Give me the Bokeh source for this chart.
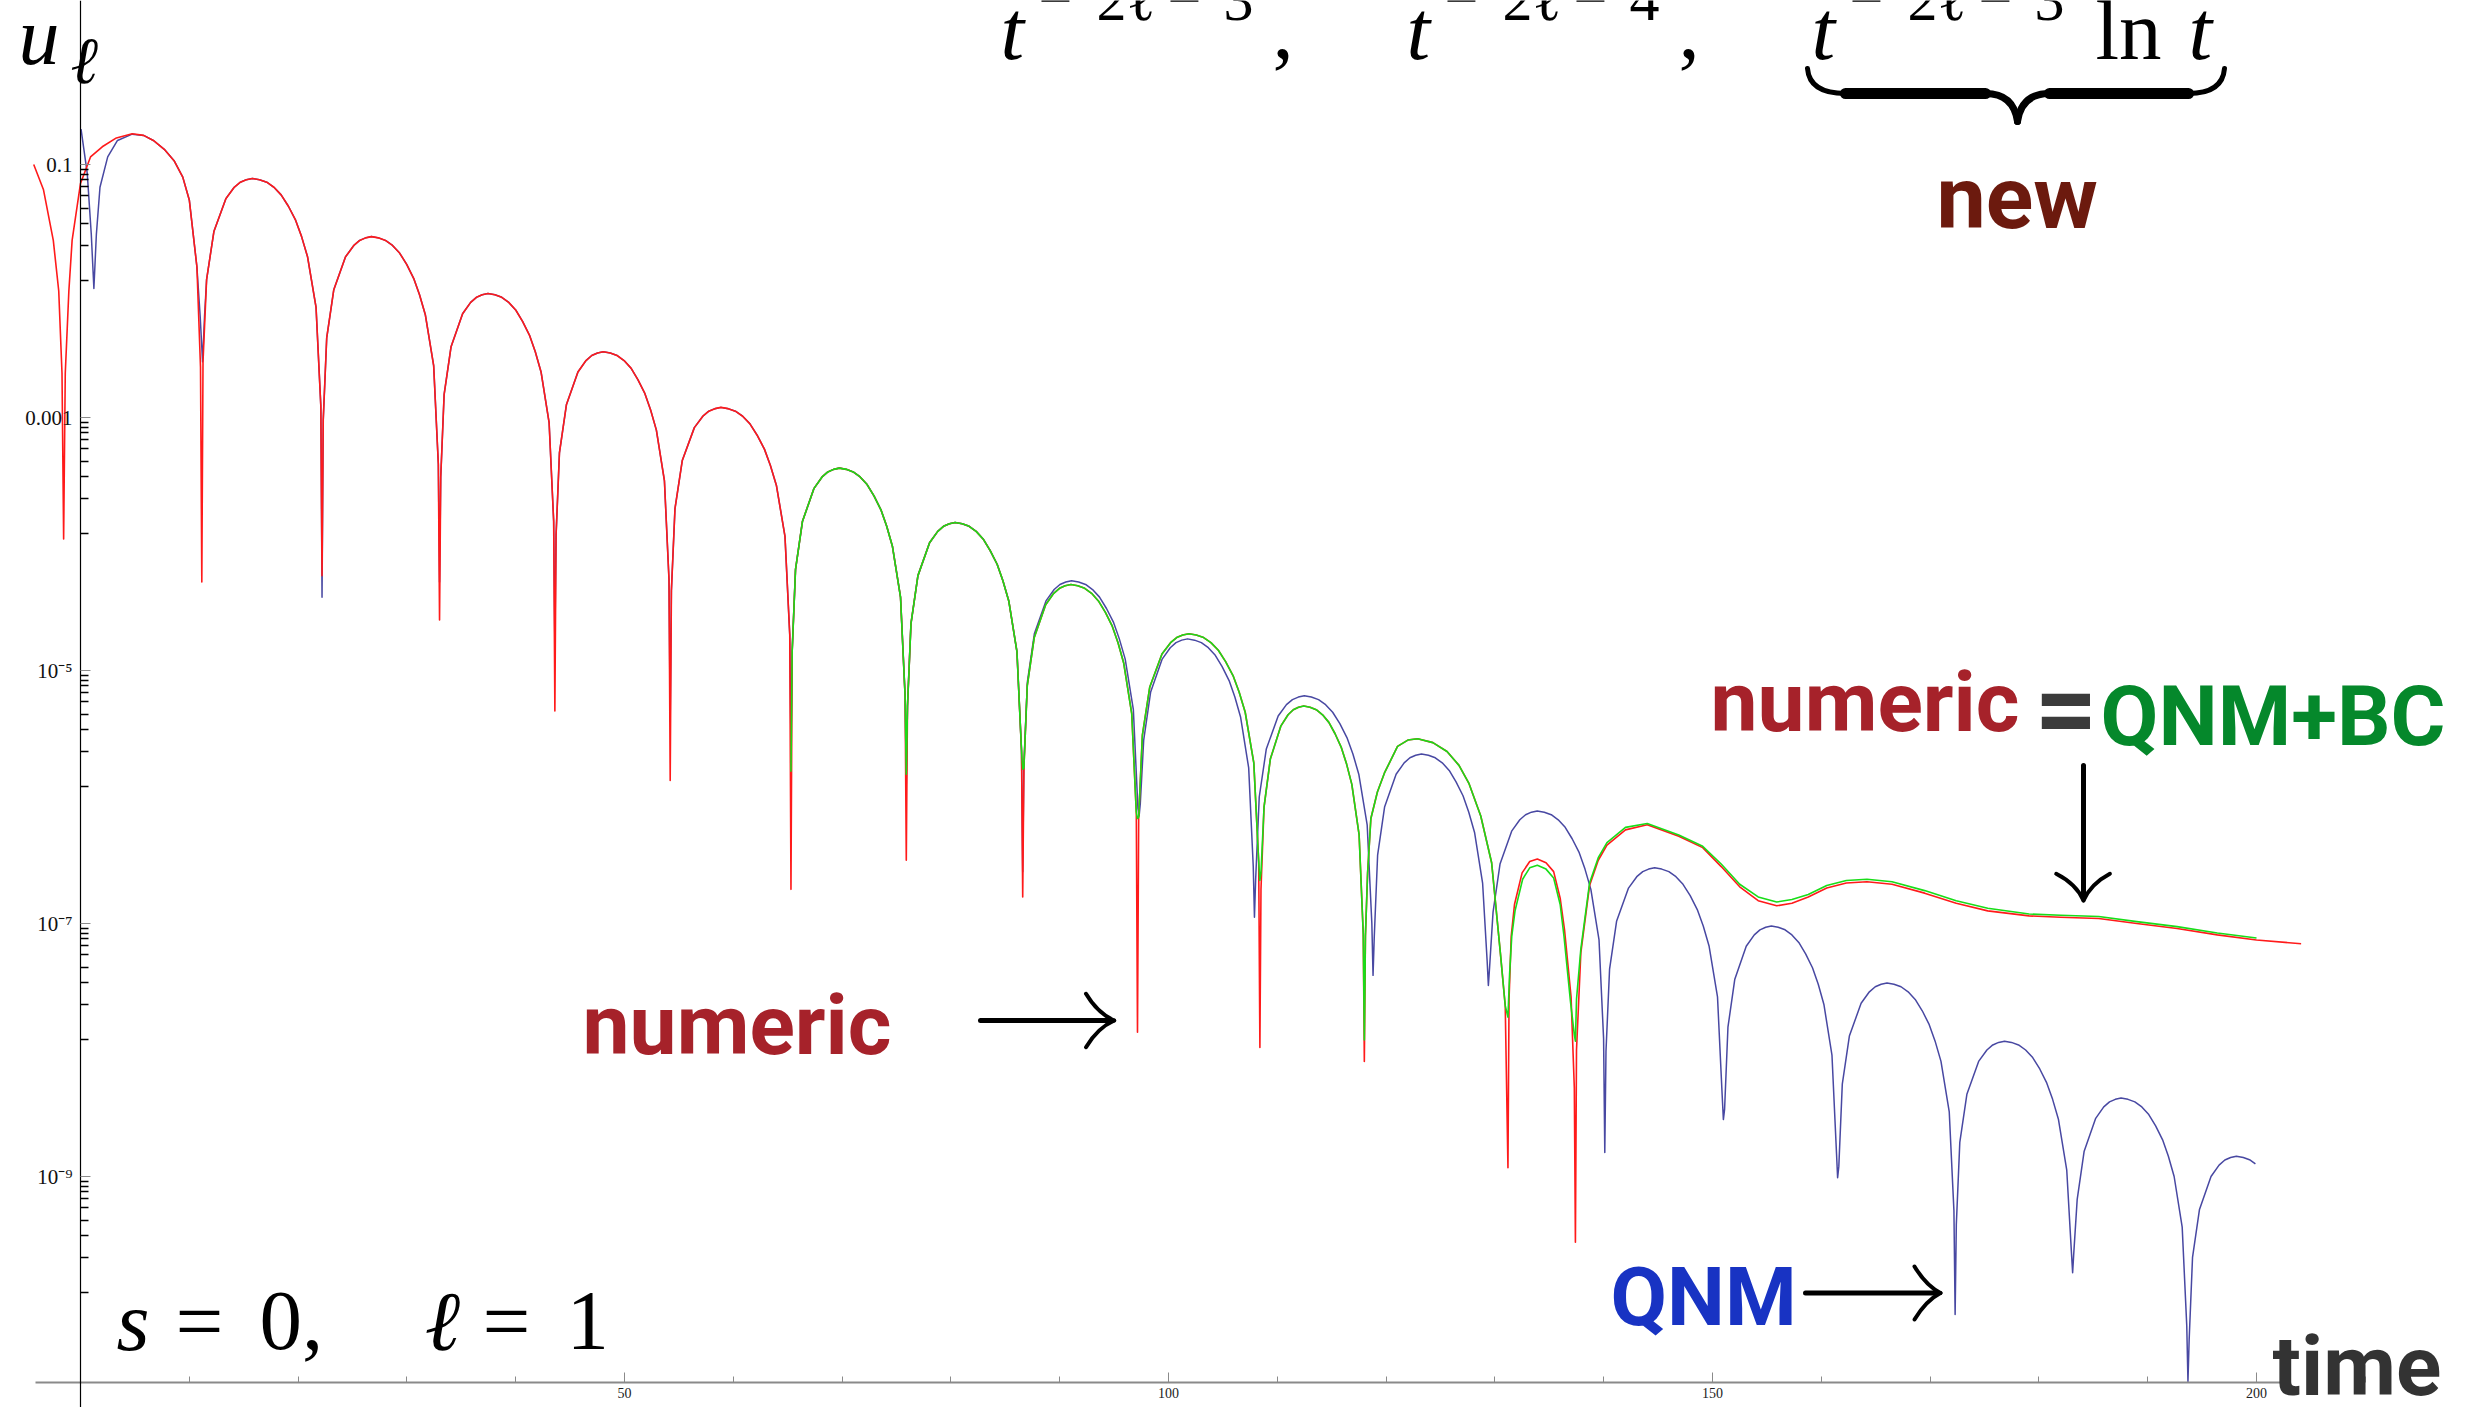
import numpy as np
from bokeh.plotting import figure
from bokeh.models import Range1d, FixedTicker, CustomJSTickFormatter, Label
from bokeh.core.properties import value
from bokeh.embed import file_html
from bokeh.resources import INLINE

# ---------------- data (t, log10 u) ----------------
numeric_t = [
    -4.3, -3.4, -2.5, -2.0, -1.7, -1.55,
    -1.4, -1.07, -0.77, 0.0, 0.92, 2.0, 3.3, 4.75, 5.8, 6.7, 7.7, 8.6, 9.4, 10.0, 10.7, 11.03, 11.15,
    11.26, 11.59, 12.26, 13.36, 14.69, 15.79, 17.12, 18.44, 19.77, 20.87, 21.65, 22.09, 22.2,
    22.31, 22.63, 23.28, 24.36, 25.66, 26.74, 28.03, 29.33, 30.62, 31.70, 32.46, 32.89, 33.0,
    33.11, 33.42, 34.06, 35.12, 36.39, 37.45, 38.72, 40.00, 41.27, 42.33, 43.07, 43.49, 43.6,
    43.71, 44.02, 44.66, 45.72, 46.99, 48.05, 49.32, 50.60, 51.87, 52.93, 53.67, 54.09, 54.2,
    54.31, 54.64, 55.31, 56.42, 57.75, 58.86, 60.19, 61.53, 62.86, 63.97, 64.75, 65.19, 65.3,
    65.41, 65.72, 66.36, 67.42, 68.69, 69.75, 71.02, 72.30, 73.57, 74.63, 75.37, 75.79, 75.9,
    76.01, 76.33, 76.97, 78.04, 79.32, 80.39, 81.68, 82.96, 84.25, 85.32, 86.07, 86.49, 86.6,
    86.71, 87.02, 87.66, 88.71, 89.98, 91.03, 92.30, 93.56, 94.83, 95.88, 96.62, 97.04, 97.15,
    97.26, 97.60, 98.28, 99.40, 100.75, 101.88, 103.23, 104.58, 105.93, 107.05, 107.84, 108.29, 108.4,
    108.50, 108.78, 109.36, 110.32, 111.47, 112.43, 113.58, 114.74, 115.89, 116.85, 117.52, 117.90, 118.0,
    118.1, 118.3, 118.6, 119.2, 119.85, 121.05, 122.0, 122.9, 124.3, 125.6, 126.7, 127.6, 128.7, 129.7, 130.5, 130.95, 131.2,
    131.3, 131.5, 131.8, 132.5, 133.2, 133.9, 134.7, 135.4, 136.0, 136.4, 137.0, 137.3, 137.4,
    137.5, 137.9, 138.7, 139.5, 140.3, 142.0, 144.0, 146.9, 149.1, 150.8, 152.5, 154.2, 155.9, 157.3, 158.8,
    160.5, 162.3, 164.2, 166.5, 169.5, 172.4, 175.3, 179.1, 182.0, 185.5, 189.0, 192.7, 196.4, 200.0, 204.1,
]
numeric_log10_u = [
    -1.00, -1.20, -1.60, -2.00, -2.65, -3.96,
    -2.65, -2.00, -1.60, -1.15, -0.94, -0.86, -0.79, -0.757, -0.77, -0.81, -0.88, -0.97, -1.10, -1.28, -1.81, -2.60, -4.30,
    -2.56, -1.91, -1.53, -1.27, -1.14, -1.11, -1.14, -1.24, -1.44, -1.73, -2.13, -2.91, -4.25,
    -3.02, -2.37, -1.99, -1.73, -1.60, -1.57, -1.60, -1.70, -1.90, -2.19, -2.59, -3.37, -4.60,
    -3.47, -2.82, -2.44, -2.18, -2.05, -2.02, -2.05, -2.15, -2.35, -2.64, -3.04, -3.82, -5.32,
    -3.93, -3.28, -2.90, -2.64, -2.51, -2.48, -2.51, -2.61, -2.81, -3.10, -3.50, -4.28, -5.87,
    -4.37, -3.72, -3.34, -3.08, -2.95, -2.92, -2.95, -3.05, -3.25, -3.54, -3.94, -4.72, -6.73,
    -4.85, -4.20, -3.82, -3.56, -3.43, -3.40, -3.43, -3.53, -3.73, -4.02, -4.42, -5.20, -6.50,
    -5.28, -4.63, -4.25, -3.99, -3.86, -3.83, -3.86, -3.96, -4.16, -4.45, -4.85, -5.63, -6.79,
    -5.77, -5.12, -4.74, -4.48, -4.35, -4.32, -4.35, -4.45, -4.65, -4.94, -5.34, -6.12, -7.86,
    -6.16, -5.51, -5.13, -4.87, -4.74, -4.71, -4.74, -4.84, -5.04, -5.33, -5.73, -6.51, -7.98,
    -6.73, -6.08, -5.70, -5.44, -5.31, -5.28, -5.31, -5.41, -5.61, -5.90, -6.30, -7.08, -8.09,
    -7.10, -6.60, -6.17, -5.96, -5.81, -5.60, -5.55, -5.54, -5.57, -5.64, -5.75, -5.89, -6.15, -6.52, -7.23, -7.65, -8.93,
    -7.60, -7.10, -6.85, -6.60, -6.51, -6.49, -6.52, -6.59, -6.80, -7.05, -7.58, -8.30, -9.52,
    -8.00, -7.23, -6.70, -6.50, -6.38, -6.26, -6.22, -6.31, -6.40, -6.55, -6.71, -6.82, -6.86, -6.84, -6.79,
    -6.72, -6.68, -6.67, -6.69, -6.76, -6.84, -6.90, -6.94, -6.95, -6.96, -7.00, -7.04, -7.09, -7.13, -7.16,
]
# further points read along the tops of the arches (lobes 2-11)
numeric_t_more = [
    14.13, 15.24, 16.45, 17.78, 19.11, 20.32,
    25.12, 26.20, 27.38, 28.68, 29.98, 31.16,
    35.86, 36.92, 38.09, 39.36, 40.63, 41.80,
    46.46, 47.52, 48.69, 49.96, 51.23, 52.40,
    57.20, 58.31, 59.53, 60.86, 62.19, 63.41,
    68.16, 69.22, 70.39, 71.66, 72.93, 74.10,
    78.79, 79.86, 81.04, 82.32, 83.60, 84.78,
    89.45, 90.50, 91.66, 92.93, 94.20, 95.36,
    100.19, 101.31, 102.55, 103.90, 105.25, 106.49,
    110.99, 111.95, 113.01, 114.16, 115.31, 116.37,
]
numeric_log10_u_more = [
    -1.18, -1.12, -1.12, -1.18, -1.33, -1.57,
    -1.64, -1.58, -1.58, -1.64, -1.79, -2.03,
    -2.09, -2.03, -2.03, -2.09, -2.24, -2.48,
    -2.55, -2.49, -2.49, -2.55, -2.70, -2.94,
    -2.99, -2.93, -2.93, -2.99, -3.14, -3.38,
    -3.47, -3.41, -3.41, -3.47, -3.62, -3.86,
    -3.90, -3.84, -3.84, -3.90, -4.05, -4.29,
    -4.39, -4.33, -4.33, -4.39, -4.54, -4.78,
    -4.78, -4.72, -4.72, -4.78, -4.93, -5.17,
    -5.35, -5.29, -5.29, -5.35, -5.50, -5.74,
]

qnm_bc_t = [
    65.3,
    65.41, 65.72, 66.36, 67.42, 68.69, 69.75, 71.02, 72.30, 73.57, 74.63, 75.37, 75.79, 75.9,
    76.01, 76.33, 76.97, 78.04, 79.32, 80.39, 81.68, 82.96, 84.25, 85.32, 86.07, 86.49, 86.6,
    86.71, 87.02, 87.66, 88.71, 89.98, 91.03, 92.30, 93.56, 94.83, 95.88, 96.62, 97.04, 97.15,
    97.26, 97.60, 98.28, 99.40, 100.75, 101.88, 103.23, 104.58, 105.93, 107.05, 107.84, 108.29, 108.4,
    108.50, 108.78, 109.36, 110.32, 111.47, 112.43, 113.58, 114.74, 115.89, 116.85, 117.52, 117.90, 118.0,
    118.1, 118.3, 118.6, 119.2, 119.85, 121.05, 122.0, 122.9, 124.3, 125.6, 126.7, 127.6, 128.7, 129.7, 130.5, 130.95, 131.2,
    131.35, 131.55, 131.85, 132.55, 133.2, 133.9, 134.7, 135.4, 136.0, 136.35, 136.95, 137.3, 137.4,
    137.5, 137.9, 138.7, 139.5, 140.3, 142.0, 144.0, 146.9, 149.1, 150.8, 152.5, 154.2, 155.9, 157.3, 158.8,
    160.5, 162.3, 164.2, 166.5, 169.5, 172.4, 175.3, 179.1, 182.0, 185.5, 189.0, 192.7, 196.4, 200.0,
]
qnm_bc_log10_u = [
    -5.80,
    -4.85, -4.20, -3.82, -3.56, -3.43, -3.40, -3.43, -3.53, -3.73, -4.02, -4.42, -5.20, -5.82,
    -5.28, -4.63, -4.25, -3.99, -3.86, -3.83, -3.86, -3.96, -4.16, -4.45, -4.85, -5.63, -5.78,
    -5.77, -5.12, -4.74, -4.48, -4.35, -4.32, -4.35, -4.45, -4.65, -4.94, -5.34, -6.12, -6.17,
    -6.16, -5.51, -5.13, -4.87, -4.74, -4.71, -4.74, -4.84, -5.04, -5.33, -5.73, -6.51, -6.66,
    -6.60, -6.08, -5.70, -5.44, -5.31, -5.28, -5.31, -5.41, -5.61, -5.90, -6.30, -7.08, -7.92,
    -7.10, -6.60, -6.17, -5.96, -5.81, -5.60, -5.55, -5.54, -5.57, -5.64, -5.75, -5.89, -6.15, -6.52, -7.23, -7.65, -7.74,
    -7.40, -7.10, -6.90, -6.65, -6.56, -6.54, -6.57, -6.64, -6.85, -7.10, -7.62, -7.88, -7.93,
    -7.60, -7.20, -6.68, -6.48, -6.36, -6.24, -6.21, -6.30, -6.39, -6.53, -6.69, -6.79, -6.83, -6.81, -6.77,
    -6.70, -6.66, -6.65, -6.67, -6.74, -6.82, -6.88, -6.925, -6.935, -6.945, -6.985, -7.025, -7.075, -7.115,
]
qnm_bc_t_more = [
    68.16, 69.22, 70.39, 71.66, 72.93, 74.10,
    78.79, 79.86, 81.04, 82.32, 83.60, 84.78,
    89.45, 90.50, 91.66, 92.93, 94.20, 95.36,
    100.19, 101.31, 102.55, 103.90, 105.25, 106.49,
    110.99, 111.95, 113.01, 114.16, 115.31, 116.37,
]
qnm_bc_log10_u_more = [
    -3.47, -3.41, -3.41, -3.47, -3.62, -3.86,
    -3.90, -3.84, -3.84, -3.90, -4.05, -4.29,
    -4.39, -4.33, -4.33, -4.39, -4.54, -4.78,
    -4.78, -4.72, -4.72, -4.78, -4.93, -5.17,
    -5.35, -5.29, -5.29, -5.35, -5.50, -5.74,
]

qnm_t = [
    0.05, 0.62, 0.99, 1.23, 1.46, 1.79, 2.5, 3.4, 4.75, 5.8, 6.7, 7.7, 8.6, 9.4, 10.0, 10.7, 11.0, 11.22,
    11.4, 11.59, 12.26, 13.36, 14.69, 15.79, 17.12, 18.44, 19.77, 20.87, 21.65, 22.09, 22.2,
    22.31, 22.63, 23.28, 24.36, 25.66, 26.74, 28.03, 29.33, 30.62, 31.70, 32.46, 32.89, 33.0,
    33.11, 33.42, 34.06, 35.12, 36.39, 37.45, 38.72, 40.00, 41.27, 42.33, 43.07, 43.49, 43.6,
    43.71, 44.02, 44.66, 45.72, 46.99, 48.05, 49.32, 50.60, 51.87, 52.93, 53.67, 54.09, 54.2,
    54.31, 54.64, 55.31, 56.42, 57.75, 58.86, 60.19, 61.53, 62.86, 63.97, 64.75, 65.19, 65.3,
    65.41, 65.72, 66.36, 67.42, 68.69, 69.75, 71.02, 72.30, 73.57, 74.63, 75.37, 75.79, 75.9,
    76.01, 76.33, 76.97, 78.04, 79.32, 80.39, 81.68, 82.96, 84.25, 85.32, 86.07, 86.49, 86.6,
    86.71, 87.03, 87.67, 88.74, 90.02, 91.09, 92.38, 93.66, 94.95, 96.02, 96.77, 97.19, 97.3,
    97.41, 97.72, 98.36, 99.42, 100.69, 101.75, 103.02, 104.30, 105.57, 106.63, 107.37, 107.79, 107.9,
    108.01, 108.34, 108.99, 110.08, 111.39, 112.48, 113.79, 115.09, 116.40, 117.49, 118.26, 118.69, 118.8,
    118.91, 119.22, 119.86, 120.92, 122.19, 123.25, 124.52, 125.80, 127.07, 128.13, 128.87, 129.29, 129.4,
    129.51, 129.83, 130.47, 131.54, 132.82, 133.89, 135.18, 136.46, 137.75, 138.82, 139.57, 139.99, 140.1,
    140.21, 140.54, 141.19, 142.28, 143.59, 144.68, 145.99, 147.29, 148.60, 149.69, 150.46, 150.89, 151.0,
    151.11, 151.42, 152.05, 153.10, 154.36, 155.41, 156.67, 157.93, 159.19, 160.24, 160.98, 161.40, 161.5,
    161.61, 161.93, 162.58, 163.66, 164.96, 166.04, 167.33, 168.63, 169.92, 171.00, 171.76, 172.19, 172.3,
    172.41, 172.73, 173.38, 174.46, 175.76, 176.84, 178.13, 179.43, 180.72, 181.80, 182.56, 182.99, 183.1,
    183.21, 183.52, 184.16, 185.22, 186.49, 187.55, 188.82, 190.10, 191.37, 192.43, 193.17, 193.59, 193.7,
    193.81, 194.12, 194.76, 195.82, 197.09, 198.15, 199.42, 199.9,
]
qnm_log10_u = [
    -0.72, -1.07, -1.55, -1.98, -1.55, -1.18, -0.94, -0.81, -0.76, -0.77, -0.81, -0.88, -0.97, -1.10, -1.28, -1.81, -2.20, -2.56,
    -2.20, -1.91, -1.53, -1.27, -1.14, -1.11, -1.14, -1.24, -1.44, -1.73, -2.13, -2.91, -4.42,
    -3.02, -2.37, -1.99, -1.73, -1.60, -1.57, -1.60, -1.70, -1.90, -2.19, -2.59, -3.37, -4.30,
    -3.47, -2.82, -2.44, -2.18, -2.05, -2.02, -2.05, -2.15, -2.35, -2.64, -3.04, -3.82, -4.80,
    -3.93, -3.28, -2.90, -2.64, -2.51, -2.48, -2.51, -2.61, -2.81, -3.10, -3.50, -4.28, -5.40,
    -4.37, -3.72, -3.34, -3.08, -2.95, -2.92, -2.95, -3.05, -3.25, -3.54, -3.94, -4.72, -5.60,
    -4.85, -4.20, -3.82, -3.56, -3.43, -3.40, -3.43, -3.53, -3.73, -4.02, -4.42, -5.20, -5.90,
    -5.28, -4.63, -4.25, -3.99, -3.86, -3.83, -3.86, -3.96, -4.16, -4.45, -4.85, -5.63, -6.59,
    -5.74, -5.09, -4.71, -4.45, -4.32, -4.29, -4.32, -4.42, -4.62, -4.91, -5.31, -6.09, -6.15,
    -6.05, -5.55, -5.17, -4.91, -4.78, -4.75, -4.78, -4.88, -5.08, -5.37, -5.77, -6.55, -6.95,
    -6.65, -6.00, -5.62, -5.36, -5.23, -5.20, -5.23, -5.33, -5.53, -5.82, -6.22, -7.00, -7.41,
    -7.11, -6.46, -6.08, -5.82, -5.69, -5.66, -5.69, -5.79, -5.99, -6.28, -6.68, -7.30, -7.49,
    -7.35, -6.91, -6.53, -6.27, -6.14, -6.11, -6.14, -6.24, -6.44, -6.73, -7.13, -7.91, -8.81,
    -8.01, -7.36, -6.98, -6.72, -6.59, -6.56, -6.59, -6.69, -6.89, -7.18, -7.58, -8.36, -8.55,
    -8.47, -7.82, -7.44, -7.18, -7.05, -7.02, -7.05, -7.15, -7.35, -7.64, -8.04, -8.82, -9.01,
    -8.92, -8.27, -7.89, -7.63, -7.50, -7.47, -7.50, -7.60, -7.80, -8.09, -8.49, -9.27, -10.09,
    -9.38, -8.73, -8.35, -8.09, -7.96, -7.93, -7.96, -8.06, -8.26, -8.55, -8.95, -9.60, -9.76,
    -9.60, -9.18, -8.80, -8.54, -8.41, -8.38, -8.41, -8.51, -8.71, -9.00, -9.40, -10.18, -10.62,
    -10.29, -9.64, -9.26, -9.00, -8.87, -8.84, -8.87, -8.90,
]
qnm_t_more = [
    14.13, 15.24, 16.45, 17.78, 19.11, 20.32,
    25.12, 26.20, 27.38, 28.68, 29.98, 31.16,
    35.86, 36.92, 38.09, 39.36, 40.63, 41.80,
    46.46, 47.52, 48.69, 49.96, 51.23, 52.40,
    57.20, 58.31, 59.53, 60.86, 62.19, 63.41,
    68.16, 69.22, 70.39, 71.66, 72.93, 74.10,
    78.79, 79.86, 81.04, 82.32, 83.60, 84.78,
    89.49, 90.56, 91.74, 93.02, 94.30, 95.48,
    100.16, 101.22, 102.39, 103.66, 104.93, 106.10,
    110.84, 111.93, 113.13, 114.44, 115.75, 116.95,
    121.66, 122.72, 123.89, 125.16, 126.43, 127.60,
    132.29, 133.36, 134.54, 135.82, 137.10, 138.28,
    143.04, 144.13, 145.33, 146.64, 147.95, 149.15,
    153.84, 154.89, 156.04, 157.30, 158.56, 159.72,
    164.42, 165.50, 166.68, 167.98, 169.28, 170.46,
    175.22, 176.30, 177.48, 178.78, 180.08, 181.26,
    185.96, 187.02, 188.19, 189.46, 190.73, 191.90,
    196.56, 197.62, 198.79,
]
qnm_log10_u_more = [
    -1.18, -1.12, -1.12, -1.18, -1.33, -1.57,
    -1.64, -1.58, -1.58, -1.64, -1.79, -2.03,
    -2.09, -2.03, -2.03, -2.09, -2.24, -2.48,
    -2.55, -2.49, -2.49, -2.55, -2.70, -2.94,
    -2.99, -2.93, -2.93, -2.99, -3.14, -3.38,
    -3.47, -3.41, -3.41, -3.47, -3.62, -3.86,
    -3.90, -3.84, -3.84, -3.90, -4.05, -4.29,
    -4.36, -4.30, -4.30, -4.36, -4.51, -4.75,
    -4.82, -4.76, -4.76, -4.82, -4.97, -5.21,
    -5.27, -5.21, -5.21, -5.27, -5.42, -5.66,
    -5.73, -5.67, -5.67, -5.73, -5.88, -6.12,
    -6.18, -6.12, -6.12, -6.18, -6.33, -6.57,
    -6.63, -6.57, -6.57, -6.63, -6.78, -7.02,
    -7.09, -7.03, -7.03, -7.09, -7.24, -7.48,
    -7.54, -7.48, -7.48, -7.54, -7.69, -7.93,
    -8.00, -7.94, -7.94, -8.00, -8.15, -8.39,
    -8.45, -8.39, -8.39, -8.45, -8.60, -8.84,
    -8.91, -8.85, -8.85,
]

x_major_ticks = [50, 100, 150, 200]
x_minor_ticks = [10, 20, 30, 40, 60, 70, 80, 90, 110, 120, 130, 140, 160, 170, 180, 190, 210]
y_major_ticks = [1e-1, 1e-3, 1e-5, 1e-7, 1e-9]
y_minor_fraction = [0.905, 0.829, 0.757, 0.666, 0.564, 0.449, 0.340, 0.230, 0.120]


def series(t, v, t_more, v_more):
    tt = np.array(t + t_more, dtype=float)
    vv = np.array(v + v_more, dtype=float)
    order = np.argsort(tt, kind="stable")
    return tt[order], 10 ** vv[order]


# ---------------- page geometry (page pixels -> data) ----------------
W, H = 2476, 1407
T0_PX, T_PX = 80.0, 10.88      # page x of t = 0, pixels per unit of t
L_PX, DEC_PX = 164.0, 126.5    # page y of u = 0.1, pixels per decade


def at_t(xpx):
    return (xpx - T0_PX) / T_PX


def at_u(ypx):
    return 10 ** (-1 - (ypx - L_PX) / DEC_PX)


SERIF = "Liberation Serif"
BOLD_SANS = "Roboto"

p = figure(width=W, height=H, output_backend="svg", toolbar_location=None,
           x_range=Range1d(at_t(0), at_t(W)), y_range=Range1d(at_u(H), at_u(0)),
           y_axis_type="log", min_border=0, outline_line_color=None,
           background_fill_color="white", border_fill_color="white")
p.grid.visible = False

xa = p.xaxis[0]
xa.fixed_location = at_u(1382)
xa.ticker = FixedTicker(ticks=x_major_ticks, minor_ticks=x_minor_ticks)
xa.bounds = (at_t(35), at_t(2290))
xa.axis_line_color = "#8a8a8a"
xa.axis_line_width = 2
xa.major_tick_in = 10
xa.major_tick_out = 0
xa.minor_tick_in = 6
xa.minor_tick_out = 0
xa.major_tick_line_color = "#8a8a8a"
xa.minor_tick_line_color = "#8a8a8a"
xa.major_label_text_font = SERIF
xa.major_label_text_font_size = "14px"
xa.major_label_text_color = "#222222"
xa.major_label_standoff = 5

ya = p.yaxis[0]
ya.fixed_location = 0
ya.ticker = FixedTicker(ticks=y_major_ticks,
                        minor_ticks=[f * m for m in y_major_ticks for f in y_minor_fraction])
ya.formatter = CustomJSTickFormatter(code="""
    const e = Math.round(Math.log10(tick));
    if (e == -1) return "0.1";
    if (e == -3) return "0.001";
    if (e == -5) return "10\u207b\u2075";
    if (e == -7) return "10\u207b\u2077";
    if (e == -9) return "10\u207b\u2079";
    return "";
""")
ya.axis_line_color = "black"
ya.axis_line_width = 1.2
ya.major_tick_in = 10
ya.major_tick_out = 0
ya.major_tick_line_color = "#8c8c8c"
ya.major_tick_line_width = 1
ya.minor_tick_in = 8
ya.minor_tick_out = 0
ya.minor_tick_line_color = "black"
ya.minor_tick_line_width = 1.6
ya.major_label_text_font = SERIF
ya.major_label_text_font_size = "21px"
ya.major_label_text_color = "#111111"
ya.major_label_standoff = 8

# ---------------- curves ----------------
qx, qy = series(qnm_t, qnm_log10_u, qnm_t_more, qnm_log10_u_more)
nx, ny = series(numeric_t, numeric_log10_u, numeric_t_more, numeric_log10_u_more)
gx, gy = series(qnm_bc_t, qnm_bc_log10_u, qnm_bc_t_more, qnm_bc_log10_u_more)
p.line(qx, qy, line_color="#4848a2", line_width=1.5, line_join="round")
p.line(nx, ny, line_color="#ff1a1a", line_width=1.6, line_join="round")
p.line(gx, gy, line_color="#18dd18", line_width=1.6, line_join="round")


# ---------------- arrows and brace ----------------
def seg(x0, y0, x1, y1, w):
    p.segment(x0=[at_t(x0)], y0=[at_u(y0)], x1=[at_t(x1)], y1=[at_u(y1)],
              line_color="black", line_width=w, line_cap="round")


def quad(x0, y0, x1, y1, cx, cy, w):
    p.quadratic(x0=[at_t(x0)], y0=[at_u(y0)], x1=[at_t(x1)], y1=[at_u(y1)],
                cx=[at_t(cx)], cy=[at_u(cy)], line_color="black", line_width=w, line_cap="round")


# numeric -> arrow
seg(980, 1020, 1109, 1020, 5)
quad(1085.5, 993.3, 1113.7, 1020, 1097, 1012.6, 4)
quad(1085.5, 1046.7, 1113.7, 1020, 1097, 1027.4, 4)
# QNM -> arrow
seg(1805, 1292.5, 1935, 1292.5, 5)
quad(1914, 1266, 1940, 1292.5, 1925.5, 1285, 4)
quad(1914, 1319, 1940, 1292.5, 1925.5, 1300, 4)
# down arrow
seg(2083, 765, 2083, 895, 5)
quad(2055.7, 873.3, 2083, 900, 2075.6, 883.4, 4)
quad(2109.4, 873.3, 2083, 900, 2090.4, 883.4, 4)
# under-brace
quad(1807, 68, 1845, 93, 1809, 93, 5)
seg(1845, 93, 1985, 93, 11)
quad(1985, 93, 2017, 121, 2013, 93, 7)
quad(2017, 121, 2049, 93, 2021, 93, 7)
seg(2049, 93, 2188, 93, 11)
quad(2188, 93, 2224, 68, 2222, 93, 5)


# ---------------- serif (math) texts ----------------
def put(txt, xpx, ypx, size, font=SERIF, style="normal", color="black"):
    # ypx is the wanted baseline; the text is drawn about 0.37 em below its anchor
    p.text(x=[at_t(xpx)], y=[at_u(ypx - 0.37 * size)], text=[txt], text_font=value(font),
           text_font_size=f"{size}px", text_font_style=style, text_color=color,
           text_align="left", text_baseline="alphabetic")


put("u", 18, 66, 82, style="italic")
put("\u2113", 70, 84, 66, style="italic")

put("s", 116, 1352, 85, style="italic")
put("=", 175, 1352, 85)
put("0,", 259, 1352, 85)
put("\u2113", 424, 1352, 85, style="italic")
put("=", 482, 1352, 85)
put("1", 566, 1352, 85)

for x0, last in ((1000, "3"), (1406, "4"), (1811, "3")):
    put("t", x0, 61, 85, style="italic")
    put("\u2212", x0 + 38, 22, 60)
    put("2\u2113", x0 + 96, 22, 60)
    put("\u2212", x0 + 167, 22, 60)
    put(last, x0 + 223, 22, 60)
put(",", 1272, 61, 85)
put(",", 1678, 61, 85)
put("ln", 2095, 61, 85)
put("t", 2188, 61, 85, style="italic")


# ---------------- bold words (labels) ----------------
def word(txt, xpx, ypx, size, color, font=BOLD_SANS, style="bold"):
    p.add_layout(Label(x=at_t(xpx), y=at_u(ypx - 0.37 * size), x_units="data", y_units="data",
                       text=txt, text_font=font, text_font_size=f"{size}px",
                       text_font_style=style, text_color=color,
                       text_align="left", text_baseline="alphabetic"))


word("QNM", 1610, 1327, 82, "#1833c3")
word("time", 2272, 1397, 84, "#333333")
word("new", 1936, 230, 88, "#6c1a0e")
word("numeric", 582, 1056, 84, "#a6222a")
word("numeric", 1710, 733, 84, "#a6222a")
word("=", 2034, 749, 110, "#3b3b3b")
word("QNM+BC", 2100, 747, 84, "#05882b")

open("out.html", "w", encoding="utf-8").write(file_html(p, INLINE))
